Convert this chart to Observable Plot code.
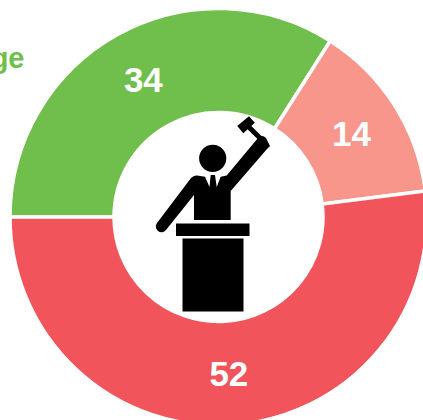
<!DOCTYPE html>
<html><head><meta charset="utf-8">
<script src="https://cdn.jsdelivr.net/npm/d3@7"></script>
<script src="https://cdn.jsdelivr.net/npm/@observablehq/plot@0.6"></script>
<style>html,body{margin:0;padding:0;background:#fff;overflow:hidden}svg{display:block}</style>
</head><body><div id="c"></div>
<script>
const categories = ["Green", "Salmon", "Red"];
const shares = [34, 14, 52];
const colours = ["#70bf4c", "#f8968b", "#f1545a"];
const clippedTitle = "ge";

const rows = categories.map((c, i) => ({
  category: c, value: shares[i], start: d3.sum(shares.slice(0, i))
}));
const W = 423, H = 420, CX = 218.5, CY = 217, RO = 208.5, RI = 104.5, RL = 157;
const toRad = d => d * Math.PI / 180;

// x scale maps share (0–100) onto degrees clockwise from 12 o'clock
const xOpts = {domain: [0, 100], range: [270, 630], axis: null};

function arcRender(index, scales, values) {
  const g = d3.create("svg:g");
  const arc = d3.arc().innerRadius(RI).outerRadius(RO);
  for (const i of index) {
    g.append("path")
      .attr("transform", `translate(${CX},${CY})`)
      .attr("d", arc({startAngle: toRad(values.x1[i]), endAngle: toRad(values.x2[i])}))
      .attr("fill", values.fill ? values.fill[i] : colours[i])
      .attr("stroke", "#fff").attr("stroke-width", 3.5);
  }
  return g.node();
}

function labelRender(index, scales, values, dims, ctx, next) {
  const node = next(index, scales, values, dims, ctx);
  const texts = node.querySelectorAll("text");
  [...index].forEach((i, k) => {
    const a = toRad(values.x[i]);
    texts[k].setAttribute("transform",
      `translate(${CX + RL * Math.sin(a)},${CY - RL * Math.cos(a) + 1})`);
  });
  return node;
}

function icon() {
  const g = d3.create("svg:g").attr("fill", "#000");
  g.append("circle").attr("cx", 212.7).attr("cy", 158.3).attr("r", 13.6);
  g.append("path").attr("d", "M176 223.5H249.5V236H176Z");
  g.append("path").attr("d", "M182.5 238.5H243.5V311.5H182.5Z");
  // torso, shoulders, arms, collar notches
  g.append("path").attr("d", "M194 220V195L166 230A5.6 5.6 0 0 1 157 223L191 178Q194 175 197 175.5L205 176.7L209.5 187L210.7 175H215L216.7 187L220.7 176.7L226.7 175.5L258 138Q262 134 266 138L270 146L267 149L230.7 191V220Z");
  // gavel head and handle
  g.append("path").attr("d", "M237.2 126L249 116.2L254.8 122.7L243.3 133.2Z");
  g.append("path").attr("d", "M249.8 124.4L262.5 137L259 140.5L246.3 127.9Z");
  return g.node();
}

const plot = Plot.plot({
  width: W, height: H, margin: 0,
  x: xOpts, y: {axis: null}, color: {type: "identity"},
  style: {background: "#fff"},
  marks: [
    Plot.barX(rows, {
      x1: "start", x2: d => d.start + d.value,
      fill: (d, i) => colours[i], render: arcRender
    }),
    Plot.text(rows, {
      x: d => d.start + d.value / 2, text: d => String(d.value),
      frameAnchor: "top-left", textAnchor: "middle", lineAnchor: "middle",
      fill: "#fff", fontSize: 35, fontWeight: 700, fontFamily: "Liberation Sans",
      render: labelRender
    }),
    Plot.text([clippedTitle], {
      text: d => d, frameAnchor: "top-left", dx: 24, dy: 58, textAnchor: "end",
      lineAnchor: "middle", fill: colours[0], fontSize: 29, fontWeight: 700,
      fontFamily: "Liberation Sans"
    }),
    icon
  ]
});
document.getElementById("c").append(plot);
</script></body></html>
